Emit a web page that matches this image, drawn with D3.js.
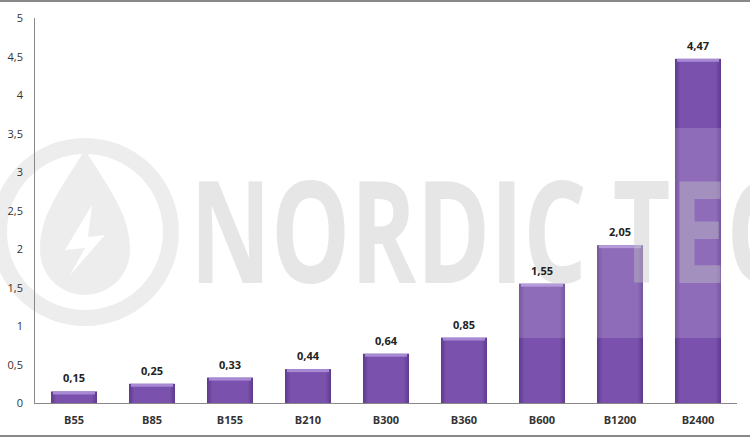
<!DOCTYPE html><html><head><meta charset="utf-8"><script src="https://cdn.jsdelivr.net/npm/d3@7"></script>
<style>body{margin:0;background:#fff}text{font-family:"Open Sans",Arial,sans-serif}</style></head><body><svg id="c" width="750" height="437"></svg>
<script>
const categories=["B55","B85","B155","B210","B300","B360","B600","B1200","B2400"];
const values=[0.15,0.25,0.33,0.44,0.64,0.85,1.55,2.05,4.47];
const yTicks=[0,0.5,1,1.5,2,2.5,3,3.5,4,4.5,5];
const svg=d3.select("#c");
const x=d3.scaleBand().domain(categories).range([35,737]).paddingInner(0.41).paddingOuter(0.205);
const y=d3.scaleLinear().domain([0,5]).range([403,18]);
const fmt=d=>String(d).replace(".",",");
const defs=svg.append("defs");
const g=defs.append("linearGradient").attr("id","bg").attr("x1",0).attr("x2",1);
g.append("stop").attr("offset",0).attr("stop-color","#5d3a8c");
g.append("stop").attr("offset",0.12).attr("stop-color","#7a52ad");
g.append("stop").attr("offset",0.88).attr("stop-color","#7a52ad");
g.append("stop").attr("offset",1).attr("stop-color","#5d3a8c");
svg.append("line").attr("x1",0).attr("x2",750).attr("y1",1).attr("y2",1).attr("stroke","#888").attr("stroke-width",2);
svg.append("line").attr("x1",0).attr("x2",750).attr("y1",436).attr("y2",436).attr("stroke","#888").attr("stroke-width",2);
// bars
svg.selectAll("rect.bar").data(values).join("rect").attr("class","bar")
 .attr("x",(d,i)=>x(categories[i])).attr("width",x.bandwidth())
 .attr("y",d=>y(d)).attr("height",d=>y(0)-y(d)).attr("fill","url(#bg)");
svg.selectAll("rect.top").data(values).join("rect").attr("class","top")
 .attr("x",(d,i)=>x(categories[i])+2).attr("width",x.bandwidth()-4)
 .attr("y",d=>y(d)).attr("height",3).attr("fill","#a88ad4");
// watermark
const wm=svg.append("g").attr("opacity",0.5);
wm.append("rect").attr("x",0).attr("width",750).attr("y",128).attr("height",210).attr("fill","#fff").attr("opacity",0.3);
wm.append("circle").attr("cx",85).attr("cy",232).attr("r",86).attr("fill","none").attr("stroke","#ddd").attr("stroke-width",16);
wm.append("path").attr("d","M85,150 C60,190 40,215 40,250 A45,45 0 0 0 130,250 C130,215 110,190 85,150Z").attr("fill","#ddd");
wm.append("path").attr("d","M92,205 L65,250 L85,248 L70,275 L105,235 L88,237 Z").attr("fill","#fff");
wm.append("text").attr("x",190).attr("y",283).attr("font-size",142).attr("font-weight",700)
 .attr("font-family","'DejaVu Sans Condensed','Roboto Condensed',sans-serif").attr("textLength",600).attr("lengthAdjust","spacingAndGlyphs")
 .attr("fill","#cfcfcf").text("NORDIC TEC");
// axes
svg.append("line").attr("x1",34.5).attr("x2",34.5).attr("y1",18).attr("y2",403).attr("stroke","#888");
svg.append("line").attr("x1",34).attr("x2",737).attr("y1",403.5).attr("y2",403.5).attr("stroke","#888");
svg.selectAll("text.yt").data(yTicks).join("text").attr("class","yt").attr("x",23).attr("y",d=>y(d)+4)
 .attr("text-anchor","end").attr("font-size",11).attr("fill","#333").text(fmt);
svg.selectAll("text.xt").data(categories).join("text").attr("class","xt").attr("x",d=>x(d)+x.bandwidth()/2).attr("y",424)
 .attr("text-anchor","middle").attr("font-size",11).attr("font-weight",700).attr("fill","#333").text(d=>d);
svg.selectAll("text.vl").data(values).join("text").attr("class","vl").attr("x",(d,i)=>x(categories[i])+x.bandwidth()/2).attr("y",d=>y(d)-9)
 .attr("text-anchor","middle").attr("font-size",11).attr("font-weight",700).attr("fill","#222").text(fmt);
</script></body></html>
